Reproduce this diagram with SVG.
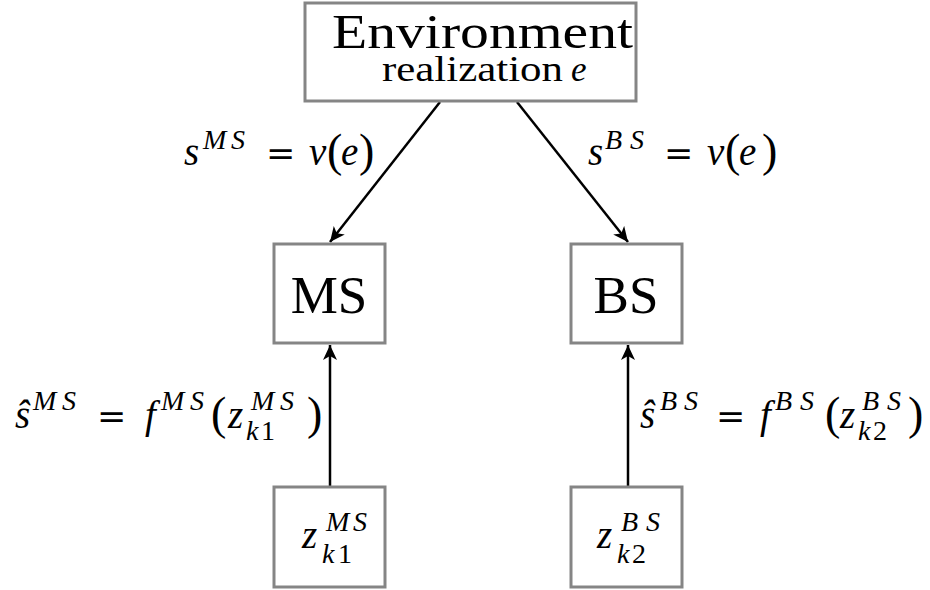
<svg xmlns="http://www.w3.org/2000/svg" width="930" height="590" viewBox="0 0 930 590">
<style>
.box{fill:#fff;stroke:#858585;stroke-width:3}
.edge{stroke:#000;stroke-width:2.5;fill:none}
.t{font-family:"Liberation Serif","Times New Roman",serif;fill:#000}
.m{font-family:"Liberation Serif","Times New Roman",serif;font-style:italic;font-size:39px;fill:#000}
.sc{font-size:28px}
.r{font-style:normal;font-family:"DejaVu Serif",serif;font-size:35px}
.p{font-style:normal;font-size:46px}
.n{font-style:normal}
</style>
<defs>
<marker id="ah" markerUnits="userSpaceOnUse" markerWidth="18" markerHeight="16" refX="15" refY="7" orient="auto">
<path d="M0,0 L15,7 L0,14 L4,7 Z" fill="#000"/>
</marker>
</defs>
<rect width="930" height="590" fill="#fff"/>
<g id="connectors">
<line class="edge" x1="440" y1="102" x2="330" y2="242" marker-end="url(#ah)"/>
<line class="edge" x1="517" y1="102" x2="628" y2="242" marker-end="url(#ah)"/>
<line class="edge" x1="330" y1="486" x2="330" y2="345" marker-end="url(#ah)"/>
<line class="edge" x1="628" y1="486" x2="628" y2="345" marker-end="url(#ah)"/>
</g>
<g id="environment">
<rect class="box" x="305" y="3" width="331" height="98"/>
<text class="t" x="332" y="48" font-size="49" textLength="301" lengthAdjust="spacingAndGlyphs">Environment</text>
<text class="t" x="382" y="81" font-size="35"><tspan textLength="181" lengthAdjust="spacingAndGlyphs">realization</tspan><tspan x="571" font-style="italic">e</tspan></text>
</g>
<g id="ms">
<rect class="box" x="274" y="244" width="111" height="99"/>
<text class="t" x="329" y="313" font-size="53" text-anchor="middle">MS</text>
</g>
<g id="bs">
<rect class="box" x="571" y="244" width="111" height="99"/>
<text class="t" x="626" y="313" font-size="53" text-anchor="middle">BS</text>
</g>
<g id="zms">
<rect class="box" x="274" y="487" width="111" height="100"/>
<text class="m"><tspan x="302" y="548">z</tspan><tspan class="sc" x="326" y="531">M</tspan><tspan class="sc" x="353" y="531">S</tspan><tspan class="sc" x="322" y="563">k</tspan><tspan class="sc n" x="338" y="563">1</tspan></text>
</g>
<g id="zbs">
<rect class="box" x="571" y="487" width="111" height="100"/>
<text class="m"><tspan x="597" y="548">z</tspan><tspan class="sc" x="621" y="531">B</tspan><tspan class="sc" x="646" y="531">S</tspan><tspan class="sc" x="617" y="563">k</tspan><tspan class="sc n" x="632" y="563">2</tspan></text>
</g>
<g id="labels">
<text class="m"><tspan x="184" y="165">s</tspan><tspan class="sc" x="203" y="149">M</tspan><tspan class="sc" x="231" y="149">S</tspan><tspan class="r" x="266" y="165">=</tspan><tspan x="309" y="165">v</tspan><tspan class="p" x="327" y="166">(</tspan><tspan x="341" y="165">e</tspan><tspan class="p" x="359" y="166">)</tspan></text>
<text class="m"><tspan x="588" y="165">s</tspan><tspan class="sc" x="605" y="149">B</tspan><tspan class="sc" x="630" y="149">S</tspan><tspan class="r" x="664" y="165">=</tspan><tspan x="707" y="165">v</tspan><tspan class="p" x="725" y="166">(</tspan><tspan x="739" y="165">e</tspan><tspan class="p" x="762" y="166">)</tspan></text>
<text class="m"><tspan x="15" y="428">ŝ</tspan><tspan class="sc" x="33" y="410">M</tspan><tspan class="sc" x="62" y="410">S</tspan><tspan class="r" x="97" y="428">=</tspan><tspan x="145" y="428">f</tspan><tspan class="sc" x="161" y="410">M</tspan><tspan class="sc" x="190" y="410">S</tspan><tspan class="p" x="211" y="429">(</tspan><tspan x="228" y="428">z</tspan><tspan class="sc" x="251" y="410">M</tspan><tspan class="sc" x="280" y="410">S</tspan><tspan class="sc" x="246" y="440">k</tspan><tspan class="sc n" x="261" y="440">1</tspan><tspan class="p" x="307" y="429">)</tspan></text>
<text class="m"><tspan x="640" y="428">ŝ</tspan><tspan class="sc" x="660" y="410">B</tspan><tspan class="sc" x="684" y="410">S</tspan><tspan class="r" x="716" y="428">=</tspan><tspan x="760" y="428">f</tspan><tspan class="sc" x="775" y="410">B</tspan><tspan class="sc" x="800" y="410">S</tspan><tspan class="p" x="825" y="429">(</tspan><tspan x="840" y="428">z</tspan><tspan class="sc" x="862" y="410">B</tspan><tspan class="sc" x="887" y="410">S</tspan><tspan class="sc" x="858" y="440">k</tspan><tspan class="sc n" x="873" y="440">2</tspan><tspan class="p" x="908" y="429">)</tspan></text>
</g>
</svg>
